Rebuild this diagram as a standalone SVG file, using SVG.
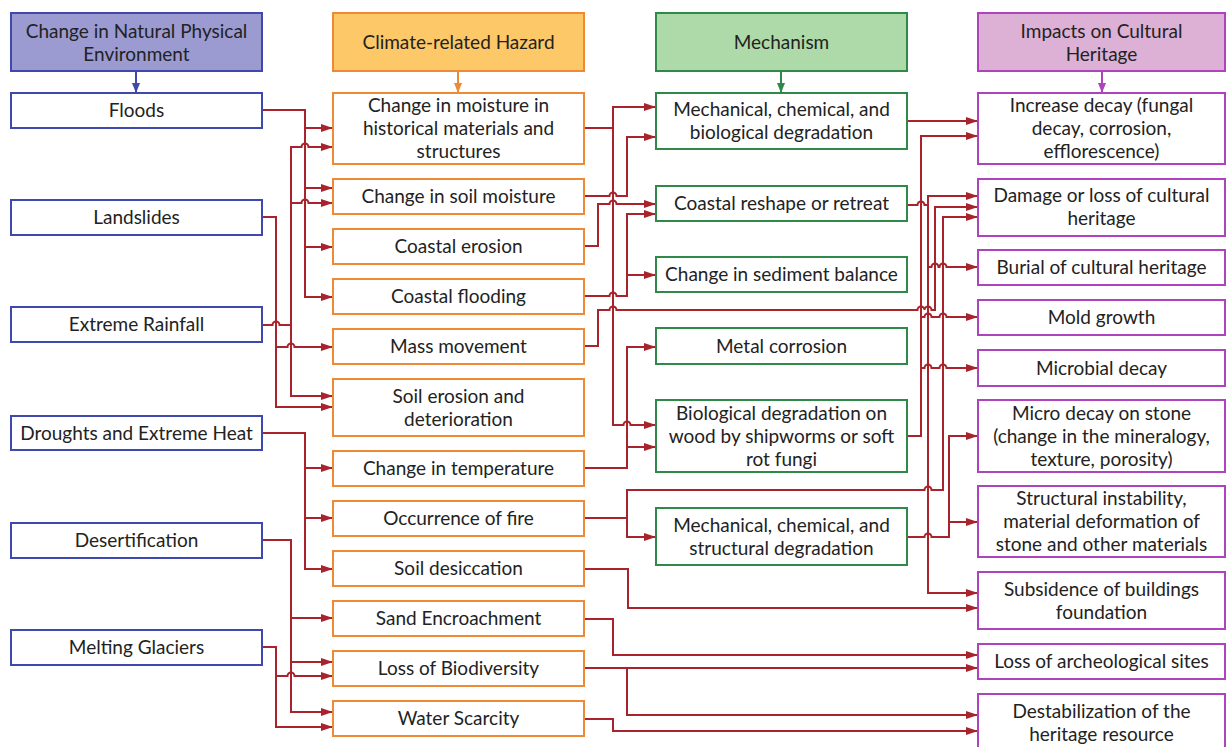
<svg xmlns="http://www.w3.org/2000/svg" width="1226" height="747" viewBox="0 0 1226 747">
<style>
.n1{fill:#fff;stroke:#3f48ac;stroke-width:2}
.n2{fill:#fff;stroke:#ee8a35;stroke-width:2}
.n3{fill:#fff;stroke:#2f8a4a;stroke-width:2}
.n4{fill:#fff;stroke:#ae44bd;stroke-width:2}
.h1{fill:#9b9bd2;stroke:#3f48ac;stroke-width:2}
.h2{fill:#fdc868;stroke:#ee8a35;stroke-width:2}
.h3{fill:#aedaa9;stroke:#2f8a4a;stroke-width:2}
.h4{fill:#ddb0d6;stroke:#ae44bd;stroke-width:2}
text{font-family:Lato,"Open Sans","Liberation Sans",sans-serif;font-size:19px;fill:#222;text-anchor:middle}
.c{fill:none;stroke:#a8232b;stroke-width:2}
.c.a{marker-end:url(#ar)}
</style>
<defs>
<marker id="ar" markerUnits="userSpaceOnUse" markerWidth="12" markerHeight="8" refX="12" refY="4" orient="auto" viewBox="0 0 12 8"><path d="M0,0 L12,4 L0,8 z" fill="#a8232b"/></marker>
<marker id="ab" markerUnits="userSpaceOnUse" markerWidth="10" markerHeight="8" refX="10" refY="4" orient="auto" viewBox="0 0 10 8"><path d="M0,0 L10,4 L0,8 z" fill="#3f48ac"/></marker>
<marker id="ao" markerUnits="userSpaceOnUse" markerWidth="10" markerHeight="8" refX="10" refY="4" orient="auto" viewBox="0 0 10 8"><path d="M0,0 L10,4 L0,8 z" fill="#ee8a35"/></marker>
<marker id="ag" markerUnits="userSpaceOnUse" markerWidth="10" markerHeight="8" refX="10" refY="4" orient="auto" viewBox="0 0 10 8"><path d="M0,0 L10,4 L0,8 z" fill="#2f8a4a"/></marker>
<marker id="ap" markerUnits="userSpaceOnUse" markerWidth="10" markerHeight="8" refX="10" refY="4" orient="auto" viewBox="0 0 10 8"><path d="M0,0 L10,4 L0,8 z" fill="#ae44bd"/></marker>
</defs>

<g id="connectors">
<path d="M136,71 V93" stroke="#3f48ac" stroke-width="2" marker-end="url(#ab)"/>
<path d="M458,71 V93" stroke="#ee8a35" stroke-width="2" marker-end="url(#ao)"/>
<path d="M781,71 V93" stroke="#2f8a4a" stroke-width="2" marker-end="url(#ag)"/>
<path d="M1102,71 V93" stroke="#ae44bd" stroke-width="2" marker-end="url(#ap)"/>

<path class="c a" d="M262,110 H305 V297 H333"/>
<path class="c a" d="M305,128 H333"/>
<path class="c a" d="M305,188 H333"/>
<path class="c a" d="M305,247 H333"/>
<path class="c a" d="M262,217 H276 V407 H333"/>
<path class="c a" d="M276,347 H287.5 a3.5,3.5 0 0 1 7,0 H333"/>
<path class="c a" d="M262,325 H272.5 a3.5,3.5 0 0 1 7,0 H291 V396 H333"/>
<path class="c a" d="M291,325 V147 H301.5 a3.5,3.5 0 0 1 7,0 H333"/>
<path class="c a" d="M291,203 H301.5 a3.5,3.5 0 0 1 7,0 H333"/>
<path class="c a" d="M262,433 H305 V569 H333"/>
<path class="c a" d="M305,468 H333"/>
<path class="c a" d="M305,518 H333"/>
<path class="c a" d="M262,540 H291 V712 H333"/>
<path class="c a" d="M291,618 H333"/>
<path class="c a" d="M291,662 H333"/>
<path class="c a" d="M262,647 H276 V727 H333"/>
<path class="c a" d="M276,676 H287.5 a3.5,3.5 0 0 1 7,0 H333"/>

<path class="c a" d="M584,128 H613 V107 H656"/>
<path class="c a" d="M613,128 V425 H623.5 a3.5,3.5 0 0 1 7,0 H656"/>
<path class="c a" d="M584,196 H609.5 a3.5,3.5 0 0 1 7,0 H627 V137 H656"/>
<path class="c a" d="M584,246 H598 V204 H609.5 a3.5,3.5 0 0 1 7,0 H656"/>
<path class="c a" d="M584,296 H609.5 a3.5,3.5 0 0 1 7,0 H627 V214 H656"/>
<path class="c a" d="M627,275 H656"/>
<path class="c a" d="M584,346 H598 V310 H609.5 a3.5,3.5 0 0 1 7,0 H917.5 a3.5,3.5 0 0 1 7,0 a3.5,3.5 0 0 1 7,0 H935 V207 H978"/>
<path class="c a" d="M584,468 H627 V347 H656"/>
<path class="c a" d="M627,447 H656"/>
<path class="c a" d="M584,518 H627 V537 H656"/>
<path class="c a" d="M627,518 V490 H924.5 a3.5,3.5 0 0 1 7,0 H943 V217 H978"/>
<path class="c a" d="M584,569 H628 V608 H978"/>
<path class="c a" d="M584,619 H613 V655 H978"/>
<path class="c a" d="M584,668 H978"/>
<path class="c a" d="M627,668 V715 H978"/>
<path class="c a" d="M584,719 H613 V731 H978"/>

<path class="c a" d="M907,121 H978"/>
<path class="c a" d="M907,205 H917.5 a3.5,3.5 0 0 1 7,0 H928 V196 H978"/>
<path class="c a" d="M928,205 V593 H978"/>
<path class="c a" d="M928,267 H931.5 a3.5,3.5 0 0 1 7,0 H939.5 a3.5,3.5 0 0 1 7,0 H978"/>
<path class="c a" d="M907,436 H921 V136 H978"/>
<path class="c a" d="M921,317 H924.5 a3.5,3.5 0 0 1 7,0 H939.5 a3.5,3.5 0 0 1 7,0 H978"/>
<path class="c a" d="M921,368 H924.5 a3.5,3.5 0 0 1 7,0 H939.5 a3.5,3.5 0 0 1 7,0 H978"/>
<path class="c a" d="M907,537 H924.5 a3.5,3.5 0 0 1 7,0 H949 V436 H978"/>
<path class="c a" d="M949,522 H978"/>
</g>

<g id="hdr-env"><rect class="h1" x="11" y="13" width="251" height="58"/><text x="136.5" y="37.5">Change in Natural Physical</text><text x="136.5" y="60.5">Environment</text></g>
<g id="hdr-hazard"><rect class="h2" x="333" y="13" width="251" height="58"/><text x="458.5" y="48.5">Climate-related Hazard</text></g>
<g id="hdr-mech"><rect class="h3" x="656" y="13" width="251" height="58"/><text x="781.5" y="48.5">Mechanism</text></g>
<g id="hdr-impact"><rect class="h4" x="978" y="13" width="247" height="58"/><text x="1101.5" y="37.5">Impacts on Cultural</text><text x="1101.5" y="60.5">Heritage</text></g>

<g id="floods"><rect class="n1" x="11" y="93" width="251" height="35"/><text x="136.5" y="117">Floods</text></g>
<g id="landslides"><rect class="n1" x="11" y="200" width="251" height="35"/><text x="136.5" y="224">Landslides</text></g>
<g id="rainfall"><rect class="n1" x="11" y="307" width="251" height="35"/><text x="136.5" y="331">Extreme Rainfall</text></g>
<g id="droughts"><rect class="n1" x="11" y="416" width="251" height="34"/><text x="136.5" y="439.5">Droughts and Extreme Heat</text></g>
<g id="desertification"><rect class="n1" x="11" y="523" width="251" height="35"/><text x="136.5" y="547">Desertification</text></g>
<g id="glaciers"><rect class="n1" x="11" y="630" width="251" height="35"/><text x="136.5" y="654">Melting Glaciers</text></g>

<g id="moisture"><rect class="n2" x="333" y="93" width="251" height="71"/><text x="458.5" y="112">Change in moisture in</text><text x="458.5" y="135">historical materials and</text><text x="458.5" y="158">structures</text></g>
<g id="soilmoisture"><rect class="n2" x="333" y="179" width="251" height="35"/><text x="458.5" y="203">Change in soil moisture</text></g>
<g id="coastalerosion"><rect class="n2" x="333" y="229" width="251" height="35"/><text x="458.5" y="253">Coastal erosion</text></g>
<g id="coastalflooding"><rect class="n2" x="333" y="279" width="251" height="35"/><text x="458.5" y="303">Coastal flooding</text></g>
<g id="massmovement"><rect class="n2" x="333" y="329" width="251" height="35"/><text x="458.5" y="353">Mass movement</text></g>
<g id="soilerosion"><rect class="n2" x="333" y="379" width="251" height="57"/><text x="458.5" y="402.5">Soil erosion and</text><text x="458.5" y="425.5">deterioration</text></g>
<g id="temperature"><rect class="n2" x="333" y="451" width="251" height="35"/><text x="458.5" y="475">Change in temperature</text></g>
<g id="fire"><rect class="n2" x="333" y="501" width="251" height="35"/><text x="458.5" y="525">Occurrence of fire</text></g>
<g id="desiccation"><rect class="n2" x="333" y="551" width="251" height="35"/><text x="458.5" y="575">Soil desiccation</text></g>
<g id="sand"><rect class="n2" x="333" y="601" width="251" height="35"/><text x="458.5" y="625">Sand Encroachment</text></g>
<g id="biodiversity"><rect class="n2" x="333" y="651" width="251" height="35"/><text x="458.5" y="675">Loss of Biodiversity</text></g>
<g id="water"><rect class="n2" x="333" y="701" width="251" height="35"/><text x="458.5" y="725">Water Scarcity</text></g>

<g id="mechbio"><rect class="n3" x="656" y="93" width="251" height="56"/><text x="781.5" y="116">Mechanical, chemical, and</text><text x="781.5" y="139">biological degradation</text></g>
<g id="coastalreshape"><rect class="n3" x="656" y="186" width="251" height="35"/><text x="781.5" y="210">Coastal reshape or retreat</text></g>
<g id="sediment"><rect class="n3" x="656" y="257" width="251" height="35"/><text x="781.5" y="281">Change in sediment balance</text></g>
<g id="metal"><rect class="n3" x="656" y="328" width="251" height="36"/><text x="781.5" y="352.5">Metal corrosion</text></g>
<g id="biowood"><rect class="n3" x="656" y="400" width="251" height="72"/><text x="781.5" y="419.5">Biological degradation on</text><text x="781.5" y="442.5">wood by shipworms or soft</text><text x="781.5" y="465.5">rot fungi</text></g>
<g id="mechstruct"><rect class="n3" x="656" y="508" width="251" height="57"/><text x="781.5" y="531.5">Mechanical, chemical, and</text><text x="781.5" y="554.5">structural degradation</text></g>

<g id="decay"><rect class="n4" x="978" y="93" width="247" height="71"/><text x="1101.5" y="112">Increase decay (fungal</text><text x="1101.5" y="135">decay, corrosion,</text><text x="1101.5" y="158">efflorescence)</text></g>
<g id="damage"><rect class="n4" x="978" y="179" width="247" height="57"/><text x="1101.5" y="202">Damage or loss of cultural</text><text x="1101.5" y="225">heritage</text></g>
<g id="burial"><rect class="n4" x="978" y="250" width="247" height="35"/><text x="1101.5" y="274">Burial of cultural heritage</text></g>
<g id="mold"><rect class="n4" x="978" y="300" width="247" height="35"/><text x="1101.5" y="324">Mold growth</text></g>
<g id="microbial"><rect class="n4" x="978" y="350" width="247" height="36"/><text x="1101.5" y="374.5">Microbial decay</text></g>
<g id="microstone"><rect class="n4" x="978" y="400" width="247" height="72"/><text x="1101.5" y="419.5">Micro decay on stone</text><text x="1101.5" y="442.5">(change in the mineralogy,</text><text x="1101.5" y="465.5">texture, porosity)</text></g>
<g id="structural"><rect class="n4" x="978" y="486" width="247" height="71"/><text x="1101.5" y="505">Structural instability,</text><text x="1101.5" y="528">material deformation of</text><text x="1101.5" y="551">stone and other materials</text></g>
<g id="subsidence"><rect class="n4" x="978" y="572" width="247" height="57"/><text x="1101.5" y="595.5">Subsidence of buildings</text><text x="1101.5" y="618.5">foundation</text></g>
<g id="archeo"><rect class="n4" x="978" y="644" width="247" height="35"/><text x="1101.5" y="668">Loss of archeological sites</text></g>
<g id="destab"><rect class="n4" x="978" y="694" width="247" height="57"/><text x="1101.5" y="717.5">Destabilization of the</text><text x="1101.5" y="740.5">heritage resource</text></g>
</svg>
